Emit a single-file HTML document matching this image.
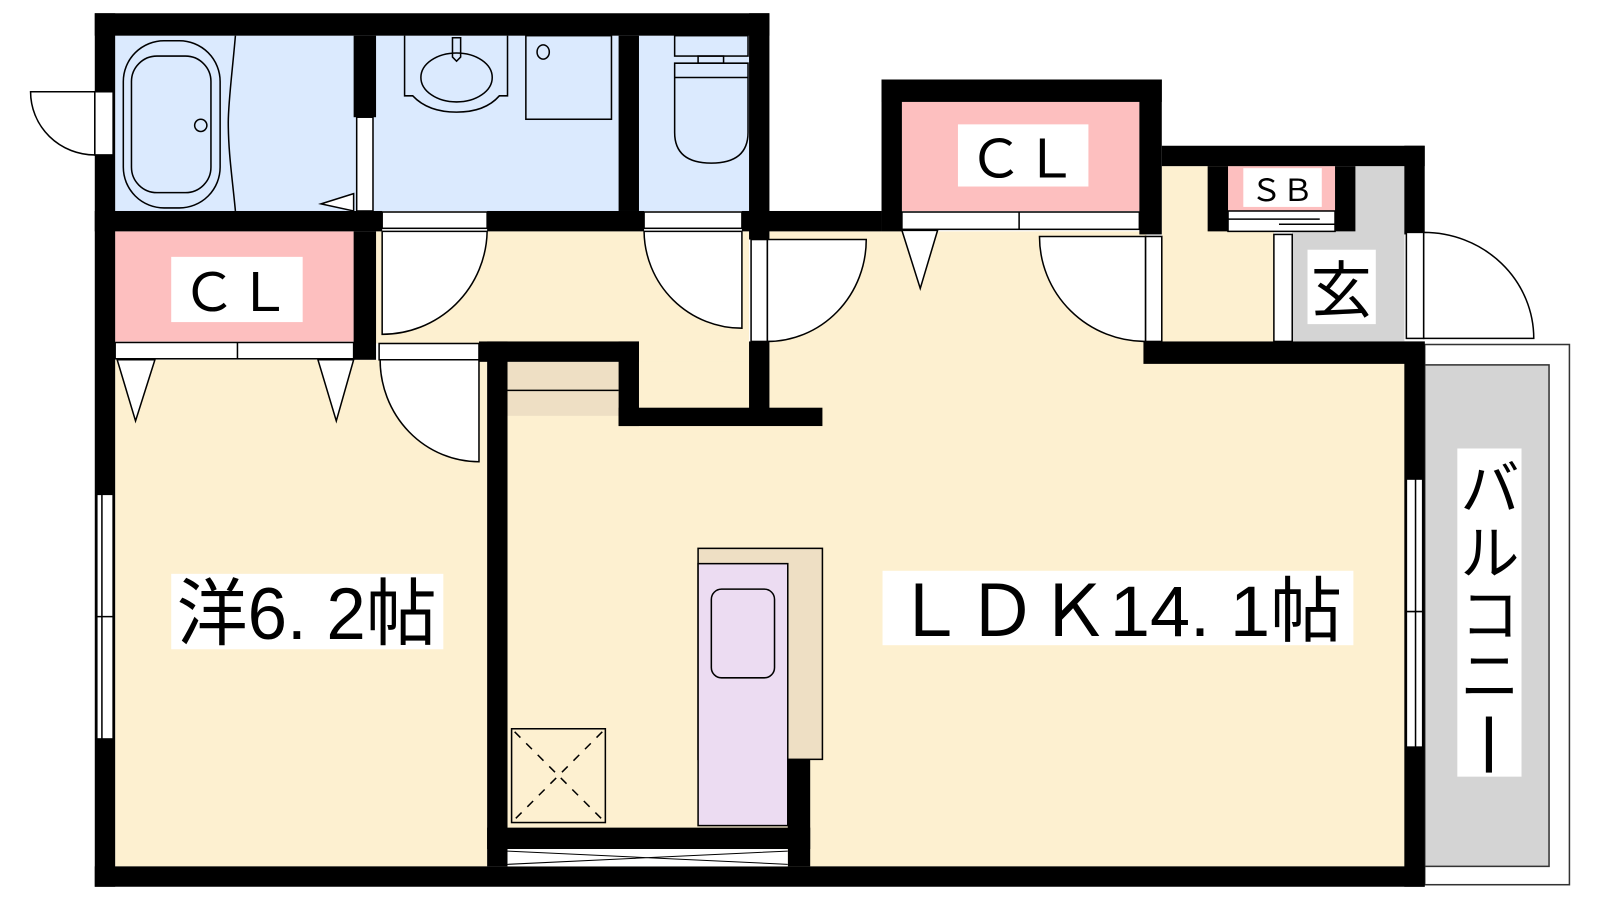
<!DOCTYPE html>
<html><head><meta charset="utf-8"><style>
html,body{margin:0;padding:0;background:#fff;width:1600px;height:900px;overflow:hidden}
svg{display:block}
text{font-family:"Liberation Sans","Noto Sans CJK JP",sans-serif;fill:#000}
</style></head><body>
<svg width="1600" height="900" viewBox="0 0 1570 883" preserveAspectRatio="none" xmlns="http://www.w3.org/2000/svg">
<g stroke="none">
<rect x="113" y="35" width="622" height="172" fill="#dbeafe"/>
<rect x="113" y="227" width="234" height="108" fill="#fdbfbf"/>
<rect x="113" y="353" width="365" height="497" fill="#fdf0d0"/>
<rect x="369" y="227" width="366" height="110" fill="#fdf0d0"/>
<rect x="627" y="337" width="108" height="63" fill="#fdf0d0"/>
<rect x="498" y="355" width="900" height="495" fill="#fdf0d0"/>
<rect x="755" y="227" width="370" height="130" fill="#fdf0d0"/>
<rect x="885" y="100" width="233" height="107" fill="#fdbfbf"/>
<rect x="1140" y="163" width="110" height="172" fill="#fdf0d0"/>
<rect x="1205" y="163" width="105" height="44" fill="#fdbfbf"/>
<rect x="1330" y="163" width="48" height="172" fill="#d4d4d4"/>
<rect x="1268" y="227" width="110" height="108" fill="#d4d4d4"/>
<rect x="498" y="355" width="109" height="53" fill="#eedfc4"/>
<rect x="1398" y="338" width="142" height="530" fill="#fff" stroke="#333" stroke-width="1.5"/>
<rect x="1398" y="358" width="122" height="492" fill="#d4d4d4" stroke="#333" stroke-width="1.5"/>
</g>
<g fill="#000">
<rect x="93" y="13" width="662" height="22"/>
<rect x="93" y="13" width="20" height="857"/>
<rect x="93" y="850" width="1305" height="20"/>
<rect x="347" y="35" width="22" height="80"/>
<rect x="607" y="35" width="20" height="172"/>
<rect x="735" y="13" width="20" height="222"/>
<rect x="93" y="207" width="282" height="20"/>
<rect x="478" y="207" width="154" height="20"/>
<rect x="728" y="207" width="137" height="20"/>
<rect x="347" y="227" width="22" height="126"/>
<rect x="470" y="335" width="157" height="20"/>
<rect x="478" y="335" width="20" height="515"/>
<rect x="607" y="335" width="20" height="83"/>
<rect x="607" y="400" width="200" height="18"/>
<rect x="735" y="335" width="20" height="75"/>
<rect x="865" y="78" width="275" height="22"/>
<rect x="865" y="78" width="20" height="149"/>
<rect x="1118" y="78" width="22" height="152"/>
<rect x="1140" y="143" width="258" height="20"/>
<rect x="1378" y="143" width="20" height="87"/>
<rect x="1185" y="163" width="20" height="64"/>
<rect x="1310" y="163" width="20" height="64"/>
<rect x="1122" y="335" width="276" height="22"/>
<rect x="1378" y="335" width="20" height="535"/>
<rect x="478" y="812" width="317" height="21"/>
<rect x="773" y="745" width="22" height="105"/>
</g>
<g fill="#fff" stroke="#000" stroke-width="1.5">
<rect x="93" y="90" width="18" height="62"/>
<rect x="95" y="485" width="16" height="240"/>
<line x1="100" y1="485" x2="100" y2="725"/><line x1="95" y1="605" x2="111" y2="605"/>
<rect x="1380" y="470" width="16" height="263"/>
<line x1="1389" y1="470" x2="1389" y2="733"/><line x1="1380" y1="600" x2="1396" y2="600"/>
<rect x="350" y="115" width="16" height="92"/>
<path d="M347 190 L315 200 L347 207 Z"/>
<rect x="375" y="208" width="103" height="16"/>
<rect x="632" y="208" width="96" height="16"/>
<rect x="113" y="336" width="234" height="16"/><line x1="233" y1="336" x2="233" y2="352"/>
<rect x="372" y="337" width="98" height="16"/>
<rect x="737" y="235" width="16" height="100"/>
<rect x="885" y="208" width="233" height="17"/><line x1="1000" y1="208" x2="1000" y2="225"/>
<rect x="1124" y="232" width="16" height="103"/>
<rect x="1205" y="207" width="105" height="20"/>
<rect x="1250" y="230" width="18" height="105"/>
<rect x="1380" y="228" width="17" height="104"/>
<path d="M93 90 L30 90 A63 62 0 0 0 93 152 Z"/>
<path d="M375 227 L478 227 A103 103 0 0 1 375 328 Z"/>
<path d="M728 227 L632 227 A96 96 0 0 0 728 322 Z"/>
<path d="M470 353 L373 353 A97 100 0 0 0 470 453 Z"/>
<path d="M753 235 L850 235 A97 100 0 0 1 753 335 Z"/>
<path d="M1124 232 L1020 232 A104 103 0 0 0 1124 335 Z"/>
<path d="M1397 228 A108 104 0 0 1 1505 332 L1397 332 Z"/>
<path d="M115 353 L152 353 L133 413 Z"/>
<path d="M312 353 L347 353 L330 413 Z"/>
<path d="M885 226 L920 226 L903 283 Z"/>
</g>
<g stroke="#000" stroke-width="1.5" fill="none">
<line x1="1205" y1="215" x2="1295" y2="215"/><line x1="1255" y1="220" x2="1310" y2="220"/>
<line x1="498" y1="383" x2="607" y2="383"/>
<rect x="121" y="40" width="95" height="164" rx="40"/>
<rect x="129" y="55" width="78" height="134" rx="25"/>
<circle cx="197" cy="123" r="6"/>
<path d="M231 35 C228 70 224 100 224 120 C224 150 228 175 231 207"/>
<!-- sink -->
<path d="M397 35 V94 H405 Q420 110 448 110 Q476 110 490 94 H498 V35"/>
<ellipse cx="448" cy="76" rx="35" ry="24"/>
<path d="M444 37 H452 V56 L448 60 L444 56 Z"/>
<rect x="516" y="35" width="84" height="82"/>
<ellipse cx="533" cy="51" rx="6" ry="7"/>
<!-- toilet -->
<rect x="662" y="35" width="72" height="20"/>
<rect x="685" y="55" width="25" height="7"/>
<path d="M662 62 H734 V130 Q734 160 698 160 Q662 160 662 130 Z"/>
<line x1="662" y1="76" x2="734" y2="76"/>
<!-- kitchen -->
<rect x="685" y="538" width="122" height="207" fill="#eedfc4"/>
<rect x="685" y="553" width="88" height="257" fill="#ecdcf2"/>
<rect x="698" y="578" width="62" height="87" rx="10"/>
<rect x="502" y="715" width="92" height="92"/>
<line x1="505" y1="718" x2="591" y2="804" stroke-dasharray="8 8"/>
<line x1="591" y1="718" x2="505" y2="804" stroke-dasharray="8 8"/>
</g>
<rect x="498" y="833" width="275" height="17" fill="#fff"/>
<path d="M498 835 L773 848 M498 848 L773 835" stroke="#000" stroke-width="1"/>
<rect x="168" y="252" width="129" height="64" fill="#fff"/>
<text x="232" y="305" font-size="52" text-anchor="middle" textLength="108" lengthAdjust="spacingAndGlyphs">ＣＬ</text>
<rect x="940" y="122" width="128" height="61" fill="#fff"/>
<text x="1004" y="174" font-size="52" text-anchor="middle" textLength="108" lengthAdjust="spacingAndGlyphs">ＣＬ</text>
<rect x="1220" y="165" width="77" height="38" fill="#fff"/>
<text x="1258" y="197" font-size="30" text-anchor="middle" textLength="62" lengthAdjust="spacingAndGlyphs">ＳＢ</text>
<rect x="1283" y="245" width="67" height="73" fill="#fff"/>
<text x="1316" y="306" font-size="60" text-anchor="middle">玄</text>
<rect x="168" y="563" width="267" height="74" fill="#fff"/>
<text x="301" y="627" font-size="72" text-anchor="middle" textLength="255" lengthAdjust="spacingAndGlyphs">洋6. 2帖</text>
<rect x="866" y="560" width="462" height="73" fill="#fff"/>
<text x="1097" y="624" font-size="70" text-anchor="middle" textLength="440" lengthAdjust="spacingAndGlyphs">ＬＤＫ14. 1帖</text>
<rect x="1430" y="440" width="63" height="322" fill="#fff"/>
<text x="1462" y="500" font-size="58" text-anchor="middle">バ</text>
<text x="1462" y="563" font-size="58" text-anchor="middle">ル</text>
<text x="1462" y="624" font-size="58" text-anchor="middle">コ</text>
<text x="1462" y="684" font-size="58" text-anchor="middle">ニ</text>
<rect x="1458" y="703" width="6" height="55" fill="#000"/>
</svg>
</body></html>
